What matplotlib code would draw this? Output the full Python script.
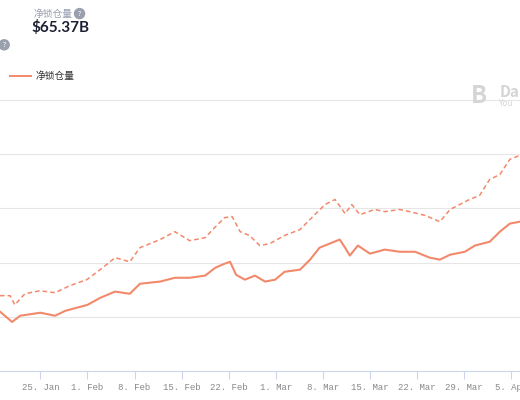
import numpy as np
import matplotlib
matplotlib.use("Agg")
import matplotlib.pyplot as plt
import matplotlib.dates as mdates
from datetime import datetime, timedelta

plt.rcParams['font.family'] = ['Noto Sans CJK SC', 'DejaVu Sans']

start = datetime(2021, 1, 19)

solid_days = [0, 1.8, 3, 6, 8.2, 9.7, 13, 14.9, 17.1, 19.3, 20.8, 23.8, 26, 28.2, 30.5, 32, 33.4,
              34.2, 35.1, 36.4, 37.9, 39.4, 40.9, 42.3, 44.6, 46.1, 47.5, 49, 50.5, 51.3, 52, 53.2,
              55, 57.2, 59.4, 61.7, 63.9, 65.4, 66.9, 69.1, 70.6, 72.8, 74.3, 75.8, 77.3]
solid_vals = [21.9, 18.1, 20.4, 21.5, 20.4, 22.2, 24.4, 27, 29.3, 28.5, 32.2, 33, 34.4, 34.4, 35.2,
              38.1, 39.6, 40.3, 35.5, 33.7, 35.2, 33, 33.7, 36.6, 37.4, 41.1, 45.5, 47, 48.5, 45.5,
              42.6, 46.3, 43.3, 44.8, 44, 44, 41.8, 41.1, 42.9, 44, 46.3, 47.7, 51.4, 54.4, 55.1]

dash_days = [0, 1.5, 2.2, 3.7, 5.9, 8.2, 10.4, 12.9, 14.9, 17.1, 19.3, 20.8, 23.8, 26, 28.2, 30.5,
             31.9, 33.4, 34.5, 35.7, 37.1, 38.6, 40.1, 42.3, 44.6, 46.8, 48.3, 49.8, 51.3, 52.3,
             53.5, 55.7, 57.2, 59.4, 60.9, 63.2, 65.4, 66.9, 69.8, 71.3, 72.8, 74.3, 75.8, 77.3]
dash_vals = [27.8, 27.8, 24.4, 28.5, 29.6, 28.9, 31.5, 33.7, 37.4, 41.8, 40.3, 45.5, 48.5, 51.4,
             48.1, 49.2, 52.9, 56.6, 57, 51.4, 50, 46.3, 47, 50, 52.2, 57.7, 61.4, 63.3, 58.1,
             61.4, 57.7, 59.6, 58.8, 59.6, 58.8, 57.4, 55.1, 59.6, 63.3, 64.8, 70.7, 72.5, 78.1, 79.6]

tick_dates = [datetime(2021, 1, 18) + timedelta(days=7 * i) for i in range(12)]
color = '#f2896b'

fig = plt.figure(figsize=(5.2, 4), dpi=100)
ax = fig.add_axes([0, 0.0725, 1, 0.6775])

ax.plot([start + timedelta(days=d) for d in solid_days], solid_vals, color=color, lw=1.5)
ax.plot([start + timedelta(days=d) for d in dash_days], dash_vals, color=color, lw=1.1,
        ls=(0, (3, 2)))

ax.set_xticks(tick_dates)
ax.xaxis.set_major_formatter(mdates.DateFormatter('%-d. %b'))
ax.set_xlim(start, start + timedelta(days=77.3))
ax.set_ylim(0, 100)
ax.set_yticks([20, 40, 60, 80, 100])
ax.yaxis.grid(True, color='#e6e6e6', lw=0.8)
ax.tick_params(axis='y', left=False, labelleft=False)
for s in ['left', 'right', 'top']:
    ax.spines[s].set_visible(False)
ax.spines['bottom'].set_color('#ccd6eb')
ax.tick_params(axis='x', colors='#ccd6eb', length=6, width=0.8, pad=3)
for lab in ax.get_xticklabels():
    lab.set_color('#888888')
    lab.set_fontsize(6.5)
    lab.set_family('Liberation Mono')
ax.set_axisbelow(True)

fig.text(0.065, 0.966, '净锁仓量', fontsize=7, color='#9a9fb0', va='center')
fig.text(0.153, 0.966, '?', fontsize=5, color='white', va='center', ha='center',
         bbox=dict(boxstyle='circle,pad=0.25', fc='#9aa0ad', ec='none'))
fig.text(0.06, 0.93, '$65.37B', fontsize=11, color='#1c2033', va='center', weight='bold',
         family='Lato')
fig.text(0.008, 0.888, '?', fontsize=5, color='white', va='center', ha='center',
         bbox=dict(boxstyle='circle,pad=0.25', fc='#9aa0ad', ec='none'))
fig.lines.append(plt.Line2D([0.02, 0.06], [0.81, 0.81], color=color, lw=1.4,
                            transform=fig.transFigure))
fig.text(0.068, 0.81, '净锁仓量', fontsize=7, color='#333333', va='center')
fig.text(0.905, 0.76, 'B', fontsize=17, color='#d5d5d5', va='center', weight='bold')
fig.text(0.96, 0.77, 'Da', fontsize=11, color='#d5d5d5', va='center', weight='bold')
fig.text(0.96, 0.74, 'You', fontsize=6, color='#d5d5d5', va='center')

fig.savefig('out.png', dpi=100)
